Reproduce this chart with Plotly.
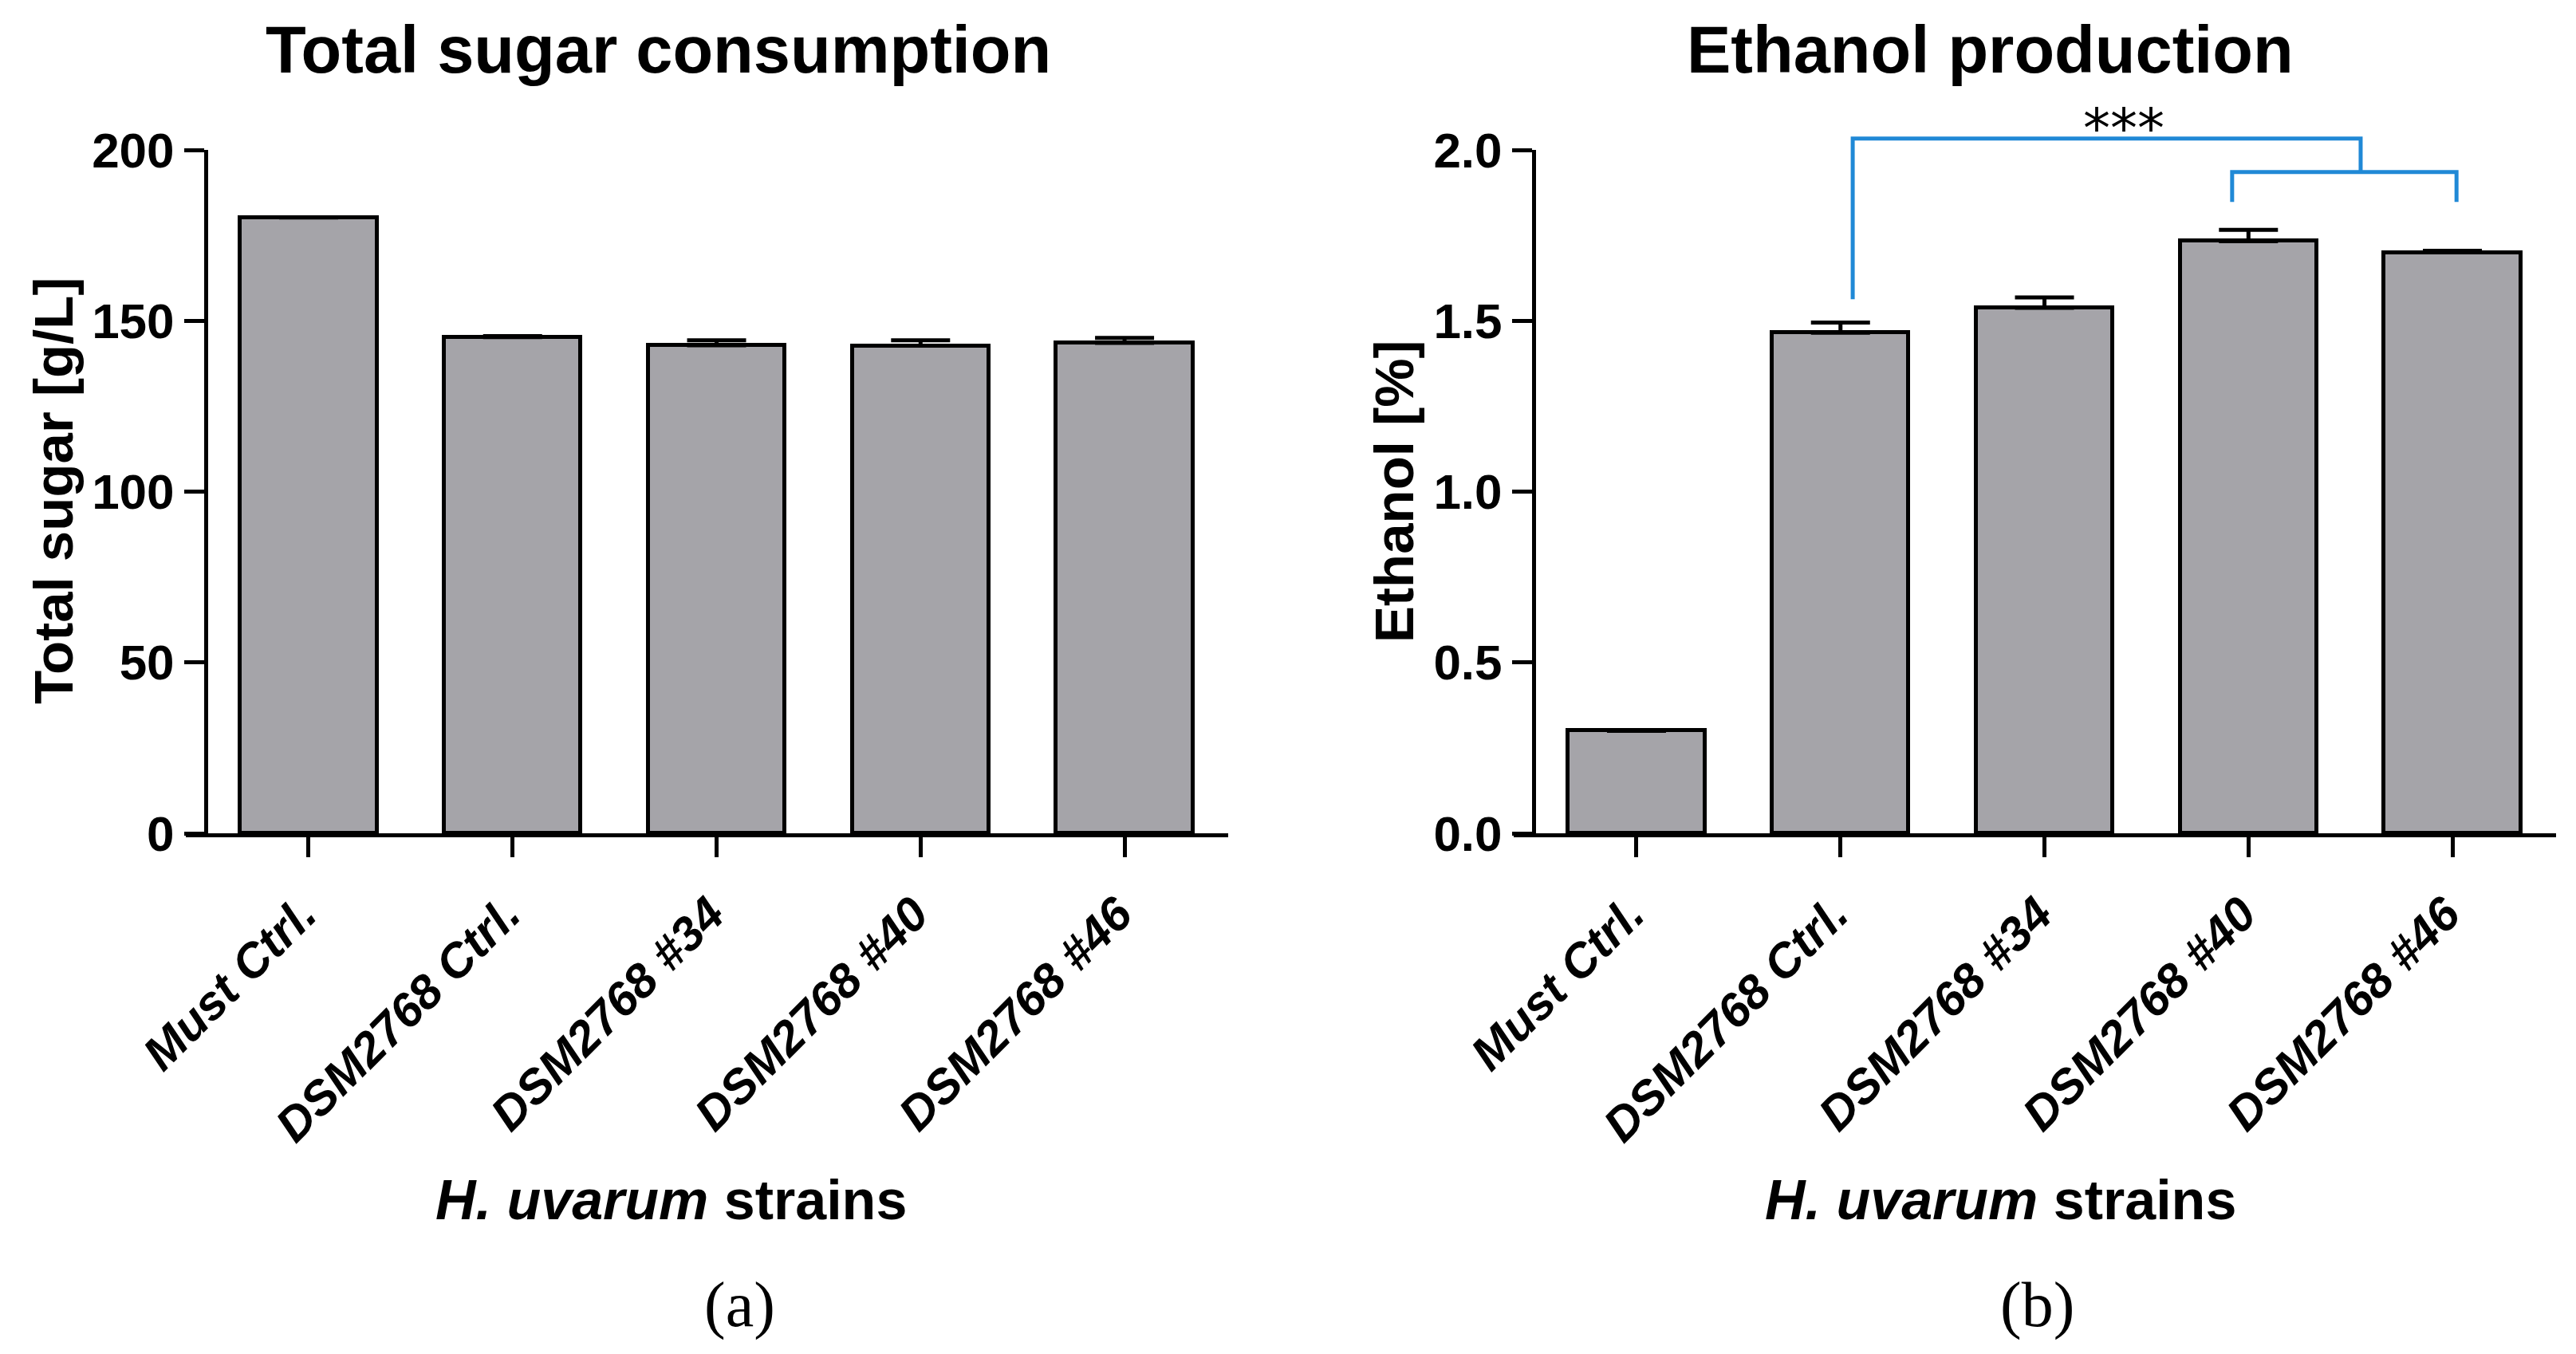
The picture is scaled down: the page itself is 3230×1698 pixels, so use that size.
import plotly.graph_objects as go

# ---------------- data ----------------
categories = ["Must Ctrl.", "DSM2768 Ctrl.", "DSM2768 #34", "DSM2768 #40", "DSM2768 #46"]
sugar_mean = [180.2, 145.2, 142.8, 142.7, 143.5]
sugar_err = [0.0, 0.3, 1.5, 1.6, 1.5]
ethanol_mean = [0.30, 1.465, 1.538, 1.733, 1.700]
ethanol_err = [0.0, 0.03, 0.03, 0.033, 0.005]

sugar_ticks = [0, 50, 100, 150, 200]
sugar_tick_text = ["0", "50", "100", "150", "200"]
ethanol_ticks = [0.0, 0.5, 1.0, 1.5, 2.0]
ethanol_tick_text = ["0.0", "0.5", "1.0", "1.5", "2.0"]

# significance brackets (x: category index, y: ethanol %)
bracket_big_x = [1.06, 1.06, 3.55, 3.55]
bracket_big_y = [1.563, 2.033, 2.033, 1.935]
bracket_small_x = [2.92, 2.92, 4.02, 4.02]
bracket_small_y = [1.848, 1.935, 1.935, 1.848]
star_x, star_y, star_text = 2.39, 2.065, "***"

# ---------------- style ----------------
W, H = 3230, 1698
FONT = "Liberation Sans, Arial, sans-serif"
SERIF = "Liberation Serif, Times New Roman, serif"
BAR_FILL = "#a5a4a9"
BLUE = "#2089d6"
LW = 5

Y_MAX_B = 2.0
YDOM_PX = (1045, 188)  # pixel rows of y=0 and y=max


def px_x(p):
    return p / W


def px_y(p):
    return 1 - p / H


ydom = [px_y(YDOM_PX[0]), px_y(YDOM_PX[1])]


def val_to_paper_b(v):
    return ydom[0] + (v / Y_MAX_B) * (ydom[1] - ydom[0])


fig = go.Figure()

bar_common = dict(
    width=0.67,
    marker=dict(color=BAR_FILL, line=dict(color="black", width=LW)),
    showlegend=False,
)

fig.add_trace(go.Bar(
    x=categories, y=sugar_mean, xaxis="x", yaxis="y",
    error_y=dict(type="data", symmetric=False, array=sugar_err,
                 arrayminus=[0] * len(sugar_err), thickness=LW, width=37, color="black"),
    **bar_common))

fig.add_trace(go.Bar(
    x=categories, y=ethanol_mean, xaxis="x2", yaxis="y2",
    error_y=dict(type="data", symmetric=False, array=ethanol_err,
                 arrayminus=[0] * len(ethanol_err), thickness=LW, width=37, color="black"),
    **bar_common))

xrange = [-0.602, 4.508]

xaxis_common = dict(
    type="category", range=xrange, showline=True, linewidth=LW, linecolor="black",
    ticks="outside", ticklen=25, tickwidth=LW, tickcolor="black", tickangle=-45,
    ticklabelstandoff=12, ticklabelshift=-8,
    tickfont=dict(family=FONT, size=60, color="black", weight="bold", style="italic"),
    showgrid=False, zeroline=False, fixedrange=True, automargin=False,
)
yaxis_common = dict(
    domain=ydom, anchor="free", showline=True, linewidth=LW, linecolor="black",
    ticks="outside", ticklen=25, tickwidth=LW, tickcolor="black",
    tickfont=dict(family=FONT, size=62, color="black", weight="bold"),
    showgrid=False, zeroline=False, fixedrange=True, automargin=False,
)

fig.update_layout(
    width=W, height=H,
    margin=dict(l=0, r=0, t=0, b=0, pad=0, autoexpand=False),
    paper_bgcolor="white", plot_bgcolor="white",
    bargap=0, showlegend=False,
    xaxis=dict(domain=[px_x(233), px_x(1540)], anchor="y", **xaxis_common),
    yaxis=dict(range=[0, 200], position=px_x(258), tickvals=sugar_ticks,
               ticktext=sugar_tick_text, **yaxis_common),
    xaxis2=dict(domain=[px_x(1898), px_x(3205)], anchor="y2", **xaxis_common),
    yaxis2=dict(range=[0, Y_MAX_B], position=px_x(1923), tickvals=ethanol_ticks,
                ticktext=ethanol_tick_text, **yaxis_common),
)

# significance brackets
def path_from(xs, ys):
    return "M " + " L ".join(f"{x},{v / Y_MAX_B}" for x, v in zip(xs, ys))

for xs, ys in [(bracket_big_x, bracket_big_y), (bracket_small_x, bracket_small_y)]:
    fig.add_shape(type="path", path=path_from(xs, ys), xref="x2", yref="y2 domain",
                  line=dict(color=BLUE, width=LW))

annotations = [
    dict(text="<b>Total sugar consumption</b>", x=px_x(825), y=px_y(62),
         font=dict(family=FONT, size=83, color="black")),
    dict(text="<b>Ethanol production</b>", x=px_x(2495), y=px_y(62),
         font=dict(family=FONT, size=83, color="black")),
    dict(text="<b>Total sugar [g/L]</b>", x=px_x(67), y=px_y(616), textangle=-90,
         font=dict(family=FONT, size=69, color="black")),
    dict(text="<b>Ethanol [%]</b>", x=px_x(1748), y=px_y(616), textangle=-90,
         font=dict(family=FONT, size=69, color="black")),
    dict(text="<b><i>H. uvarum</i> strains</b>", x=px_x(841), y=px_y(1505),
         font=dict(family=FONT, size=70, color="black")),
    dict(text="<b><i>H. uvarum</i> strains</b>", x=px_x(2508), y=px_y(1505),
         font=dict(family=FONT, size=70, color="black")),
    dict(text="(a)", x=px_x(927), y=px_y(1636),
         font=dict(family=SERIF, size=80, color="black")),
    dict(text="(b)", x=px_x(2554), y=px_y(1636),
         font=dict(family=SERIF, size=80, color="black")),
]
for a in annotations:
    a.update(xref="paper", yref="paper", xanchor="center", yanchor="middle", showarrow=False)
    fig.add_annotation(**a)

fig.add_annotation(text=star_text, x=star_x, y=val_to_paper_b(star_y), xref="x2", yref="paper",
                   xanchor="center", yanchor="middle", showarrow=False,
                   font=dict(family="DejaVu Sans, sans-serif", size=68, color="black"))

fig.write_html("out.html", config={"displayModeBar": False},
               post_script="document.body.style.margin='0px';")
